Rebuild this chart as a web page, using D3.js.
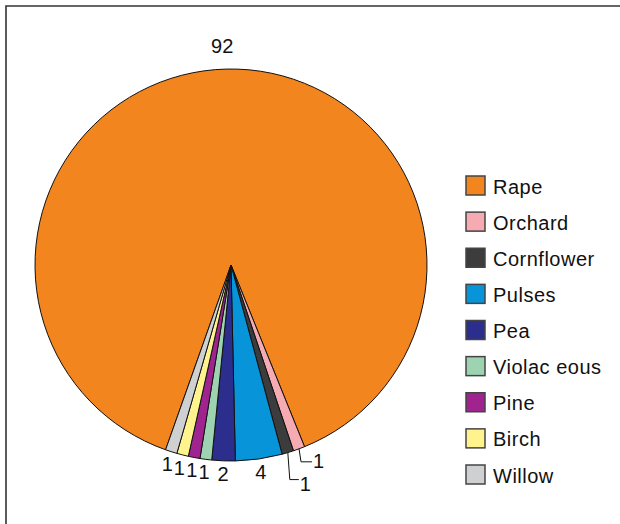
<!DOCTYPE html>
<html>
<head>
<meta charset="utf-8">
<script src="https://cdn.jsdelivr.net/npm/d3@7"></script>
<style>
  html, body { margin: 0; padding: 0; background: #fff; }
  svg { display: block; font-family: "Liberation Sans", Arial, sans-serif; }
</style>
</head>
<body>
<svg id="chart" width="620" height="524"></svg>
<script>
// Pollen sources (counts per source)
const categories = ["Rape", "Orchard", "Cornflower", "Pulses", "Pea", "Violac eous", "Pine", "Birch", "Willow"];
const values = [92, 1, 1, 4, 2, 1, 1, 1, 1];
const colors = ["#F3851F", "#F6AAB1", "#3C3C3C", "#0794D8", "#2C2E8D", "#9DD3B1", "#A0248F", "#FFF38E", "#CFD0D2"];
// Slices whose value labels hang off a leader line
const leaderLabels = { "Orchard": { drop: 13, run: 11, dy: -1 }, "Cornflower": { drop: 27, run: 9, dy: 4 } };

const svg = d3.select("#chart");
const cx = 231, cy = 265, r = 196;
const fontSize = 20;

// frame (top and left rules)
svg.append("path")
  .attr("d", "M6,524 V6 H620")
  .attr("fill", "none")
  .attr("stroke", "#333")
  .attr("stroke-width", 1.6);

const data = categories.map((c, i) => ({ name: c, value: values[i], color: colors[i] }));

const start = -160.5 * Math.PI / 180;
const pie = d3.pie().sort(null).value(d => d.value)
  .startAngle(start).endAngle(start + 2 * Math.PI);
const arcs = pie(data);

const arc = d3.arc().innerRadius(0).outerRadius(r);
const g = svg.append("g").attr("transform", `translate(${cx},${cy})`);

g.selectAll("path.slice")
  .data(arcs)
  .join("path")
  .attr("class", "slice")
  .attr("d", arc)
  .attr("fill", d => d.data.color)
  .attr("stroke", "#111")
  .attr("stroke-width", 1)
  .attr("stroke-linejoin", "round");

const mid = d => (d.startAngle + d.endAngle) / 2;
const polar = (a, rad) => [rad * Math.sin(a), -rad * Math.cos(a)];

// value labels
arcs.forEach(d => {
  const a = mid(d);
  const lead = leaderLabels[d.data.name];
  if (lead) {
    const [x0, y0] = polar(a, r);
    const x1 = x0 + 2, y1 = y0 + lead.drop;
    const x2 = x1 + lead.run;
    g.append("path")
      .attr("d", `M${x0},${y0} L${x1},${y1} H${x2}`)
      .attr("fill", "none")
      .attr("stroke", "#111")
      .attr("stroke-width", 1);
    g.append("text")
      .attr("x", x2 + 1)
      .attr("y", y1 + lead.dy)
      .attr("dominant-baseline", "central")
      .attr("font-size", fontSize)
      .attr("fill", "#111")
      .text(d.data.value);
  } else {
    const rad = d.data.value > 50 ? 219 : 209;
    const [x, y] = polar(a, rad);
    g.append("text")
      .attr("x", x + (d.data.value > 50 ? -4 : 0))
      .attr("y", y)
      .attr("text-anchor", "middle")
      .attr("dominant-baseline", "central")
      .attr("font-size", fontSize)
      .attr("fill", "#111")
      .text(d.data.value);
  }
});

// legend
const ly = d3.scalePoint().domain(categories).range([176, 465]);
const legend = svg.append("g");
const items = legend.selectAll("g")
  .data(data)
  .join("g")
  .attr("transform", d => `translate(466,${ly(d.name)})`);
items.append("rect")
  .attr("width", 19).attr("height", 19)
  .attr("fill", d => d.color)
  .attr("stroke", "#444")
  .attr("stroke-width", 1.5);
items.append("text")
  .attr("x", 27)
  .attr("y", 10.5)
  .attr("dominant-baseline", "central")
  .attr("font-size", fontSize)
  .attr("letter-spacing", 0.5)
  .attr("fill", "#111")
  .text(d => d.name);
</script>
</body>
</html>
